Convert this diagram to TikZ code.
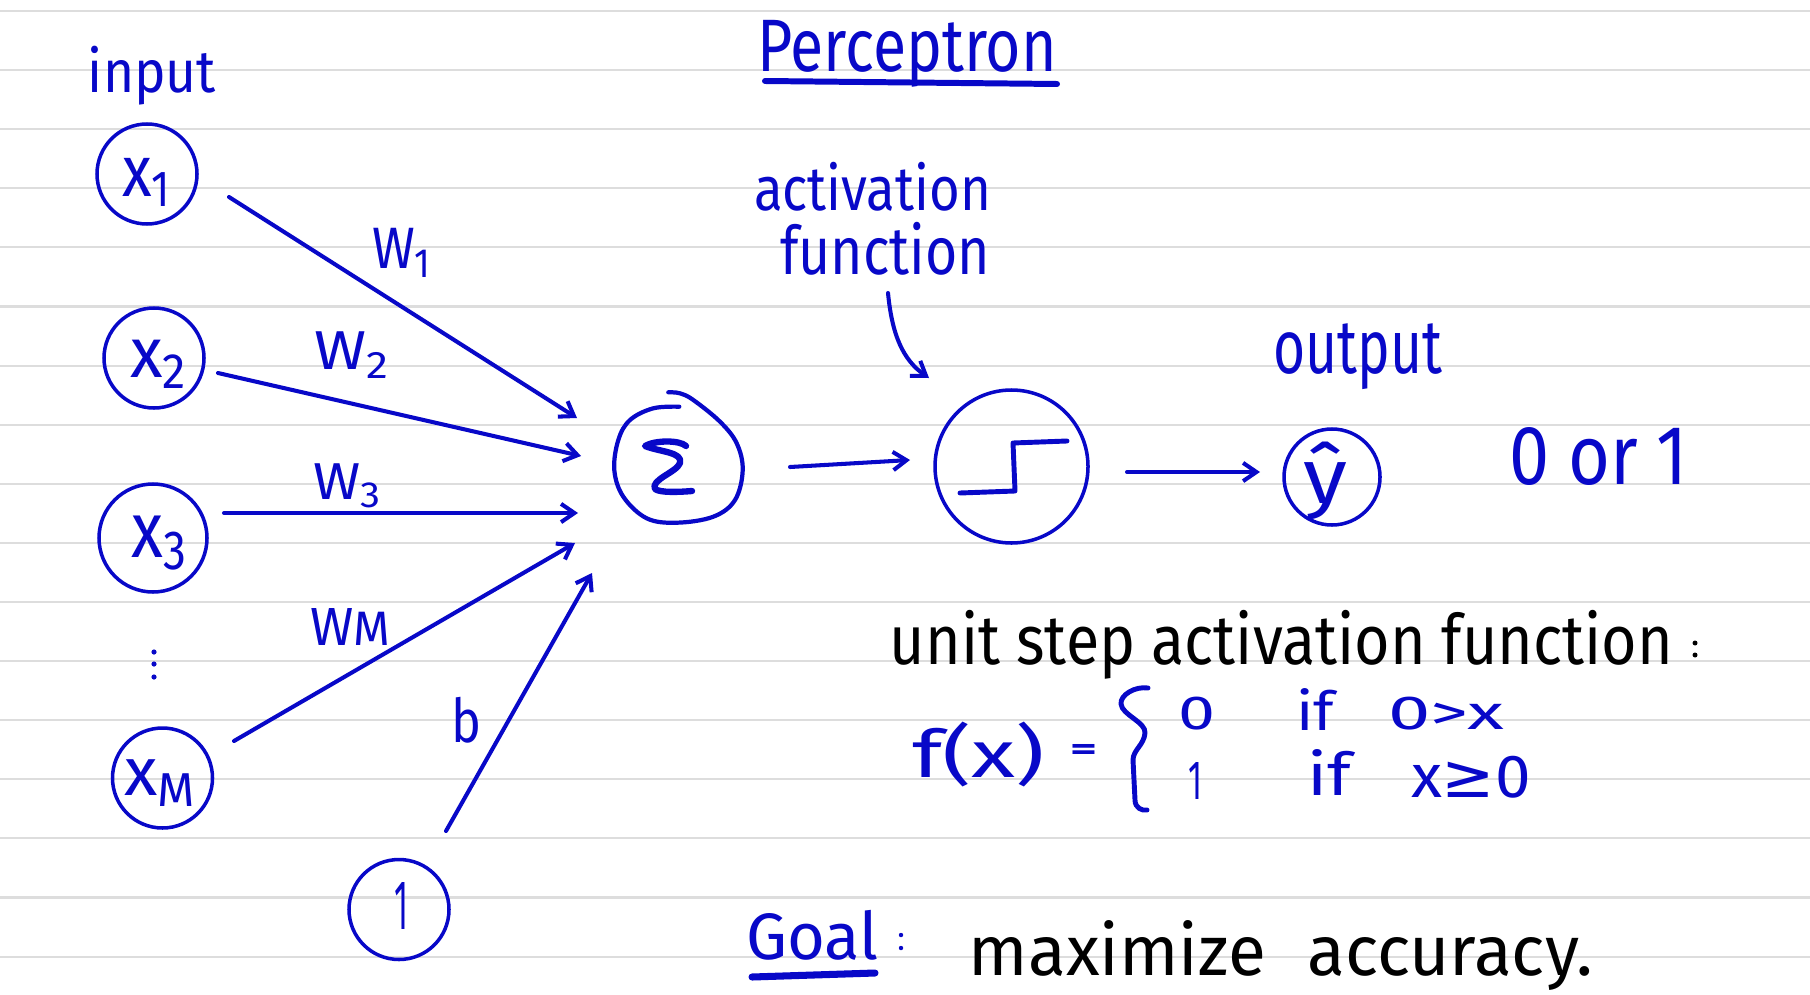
\documentclass[tikz,border=0pt]{standalone}
\usepackage{fontspec}
\setmainfont{Fira Sans}
\newfontfamily\symfont{DejaVu Sans}
\usetikzlibrary{arrows.meta}
\newlength\pxu
\setlength\pxu{0.01cm}
\newcommand\fitbox[3]{\resizebox*{#1\pxu}{#2\pxu}{#3}}
\definecolor{ink}{RGB}{8,8,200}
\definecolor{paperline}{RGB}{221,221,221}
\tikzset{
  txt/.style={inner sep=0pt, outer sep=0pt, text=ink},
  blk/.style={inner sep=0pt, outer sep=0pt, text=black},
  unit/.style={circle, draw=ink, line width=1pt, inner sep=0pt},
  conn/.style={draw=ink, line width=1.15pt, line cap=round,
    -{Straight Barb[length=3.8pt,width=5.2pt,line width=1.15pt]}},
  stroke/.style={draw=ink, line cap=round, line join=round}
}
\begin{document}
\begin{tikzpicture}[x=0.01cm,y=-0.01cm]
\useasboundingbox (0,0) rectangle (1810,994);
\fill[white] (0,0) rectangle (1810,994);
% ruled paper
\foreach \k in {0,...,16}{
  \draw[paperline, line width=0.6pt] (0,{11+59.1*\k}) -- (1810,{11+59.1*\k});
}
% title
\node[txt] (title) at (907,53.5) {\fitbox{300}{67}{Perceptron}};
\draw[stroke, line width=1.7pt] (765,81) -- (1057,84);
% input column
\node[txt] (inputlbl) at (152,75.5) {\fitbox{128}{59}{input}};
\node[unit, minimum size=100\pxu] (x1) at (147,174) {};
\node[unit, minimum size=100\pxu] (x2) at (154,358) {};
\node[unit, minimum size=108\pxu] (x3) at (153,538) {};
\node[unit, minimum size=100\pxu] (xm) at (162.5,778) {};
\node[unit, minimum size=100\pxu] (one) at (399,909.5) {};
\node[txt] (x1lbl) at (147.5,182.5) {\fitbox{51}{49}{x\textsubscript{1}}};
\node[txt] (x2lbl) at (159.5,364) {\fitbox{59}{48}{x\textsubscript{2}}};
\node[txt] (x3lbl) at (161,543) {\fitbox{58}{54}{x\textsubscript{3}}};
\node[txt] (xmlbl) at (161,783) {\fitbox{74}{46}{x\textsubscript{M}}};
\node[txt] (onelbl) at (401,905.5) {\fitbox{14}{47}{1}};
\fill[ink] (154,652) circle[radius=2.6\pxu] (154,664) circle[radius=2.6\pxu] (154,677) circle[radius=2.6\pxu];
% summation unit (hand drawn ring)
\node[circle, minimum size=130\pxu, inner sep=0pt] (sum) at (678,460) {};
\draw[stroke, line width=1.2pt] plot[smooth, tension=0.6] coordinates {(679.3,406.7) (653.3,408.3) (630,420) (618.3,440) (614.3,470) (623.3,496.7) (646.7,518.3) (676.7,522.7) (713.3,516.7) (735,500) (742.7,470) (736.7,443.3) (720,421.7) (693.3,400) (680,393.3) (668.3,392.3)};
\draw[stroke, line width=1.8pt] (686,446) .. controls (680,440) and (655,440) .. (645,446) .. controls (660,452) and (683,452) .. (680,463) .. controls (677,472) and (650,480) .. (655,489) .. controls (660,493) and (680,492) .. (692,491);
% weights
\coordinate (x1out) at (229,197);
\coordinate (sumin1) at (577,418);
\coordinate (x2out) at (218,373);
\coordinate (sumin2) at (581,456);
\coordinate (x3out) at (224,513);
\coordinate (sumin3) at (578,513);
\coordinate (xmout) at (234,741);
\coordinate (suminm) at (575,543);
\coordinate (oneout) at (446,831);
\coordinate (suminb) at (592,573);
\draw[conn] (x1out) -- (sumin1);
\draw[conn] (x2out) -- (sumin2);
\draw[conn] (x3out) -- (sumin3);
\draw[conn] (xmout) -- (suminm);
\draw[conn] (oneout) -- (suminb);
\node[txt] (w1) at (402.5,252.5) {\fitbox{61}{49}{W\textsubscript{1}}};
\node[txt] (w2) at (352.5,355) {\fitbox{77}{46}{W\textsubscript{2}}};
\node[txt] (w3) at (348,486) {\fitbox{70}{44}{W\textsubscript{3}}};
\node[txt] (wm) at (350,627) {\fitbox{80}{37}{W{\small M}}};
\node[txt] (blbl) at (466,720) {\fitbox{30}{46}{b}};
% activation unit
\node[unit, minimum size=153\pxu] (step) at (1011.5,466.5) {};
\draw[stroke, line width=1.4pt] (960,493) -- (1015,491) -- (1013,443) -- (1067,441);
\coordinate (sumout) at (790,467);
\coordinate (stepin) at (910,460);
\draw[conn] (sumout) -- (stepin);
\node[txt] (actlbl) at (872.5,186.5) {\fitbox{237}{49}{activation}};
\node[txt] (funlbl) at (885,248.5) {\fitbox{210}{53}{function}};
\coordinate (actstart) at (888,293);
\coordinate (actend) at (929,378);
\draw[conn] (actstart) .. controls (892,335) and (903,360) .. (actend);
% output
\node[unit, minimum size=96\pxu] (yhat) at (1332,477) {};
\node[txt] (yhatlbl) at (1325,481) {\fitbox{44}{78}{ŷ}};
\coordinate (stepout) at (1127,472);
\coordinate (yhatin) at (1260,472);
\draw[conn] (stepout) -- (yhatin);
\node[txt] (outlbl) at (1357.5,357) {\fitbox{169}{66}{output}};
\node[txt] (zeroone) at (1598.5,456) {\fitbox{179}{58}{0 or 1}};
% unit step definition
\node[blk] (steptitle) at (1281.5,644.5) {\fitbox{783}{69}{unit step activation function}};
\fill[black] (1695,643) circle[radius=2.5\pxu] (1695,655) circle[radius=2.5\pxu];
\node[txt] (fx) at (978.5,754.5) {\fitbox{133}{65}{f(x)}};
\node[txt] (eq) at (1083.5,752) {\fitbox{27}{15}{\bfseries =}};
\draw[stroke, line width=1.4pt] (1148,688) .. controls (1135,686) and (1120,695) .. (1121,704) .. controls (1122,715) and (1146,722) .. (1145,733) .. controls (1144,745) and (1133,750) .. (1133,760) -- (1135,800) .. controls (1135,808) and (1142,811) .. (1147,810);
\node[txt] (c0) at (1196.5,713.5) {\fitbox{37}{33}{0}};
\node[txt] (if1) at (1315,709) {\fitbox{38}{42}{if}};
\node[txt] (cond1) at (1446,713.5) {\fitbox{116}{33}{0>x}};
\node[txt] (c1) at (1195,780.5) {\fitbox{14}{37}{1}};
\node[txt] (if2) at (1329,772) {\fitbox{44}{46}{if}};
\node[txt] (cond2) at (1471,777) {\fitbox{120}{42}{x{\symfont ≥}0}};
% goal
\node[txt] (goal) at (812,935) {\fitbox{132}{50}{Goal}};
\draw[stroke, line width=2pt] (752,977) -- (875,973);
\fill[ink] (901,935) circle[radius=2.2\pxu] (901,948) circle[radius=2.2\pxu];
\node[blk] (goaltext) at (1281,955) {\fitbox{624}{70}{maximize\hspace{0.6em}accuracy.}};
\end{tikzpicture}
\end{document}
